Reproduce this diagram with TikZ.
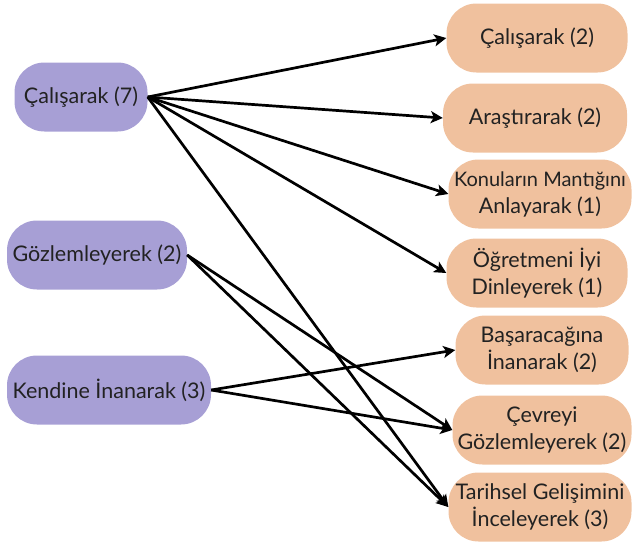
\documentclass[tikz,border=0pt]{standalone}
\usepackage{fontspec}
\setmainfont{Lato}
\usetikzlibrary{arrows.meta}
\definecolor{lavender}{HTML}{A79FD5}
\definecolor{peach}{HTML}{F0C19E}
\definecolor{ink}{HTML}{222222}

\begin{document}
\begin{tikzpicture}[x=1pt, y=-1pt,
    box/.style={rounded corners=30pt, minimum height=69pt, align=center, text=ink,
        inner sep=1pt, font=\fontsize{21.5}{27}\selectfont},
    sol/.style={box, fill=lavender},
    sag/.style={box, fill=peach},
    ok/.style={-{Stealth[length=12pt, width=12pt, inset=3pt]}, line width=2.7pt}]
    \useasboundingbox (0,0) rectangle (632,544);

    % Define the left nodes
    \node[sol, minimum width=133pt] (calisarak) at (81,97) {Çalışarak (7)};
    \node[sol, minimum width=180pt] (gozlem) at (97,255) {Gözlemleyerek (2)};
    \node[sol, minimum width=204pt] (kendine) at (109,390) {Kendine İnanarak (3)};

    % Define the right nodes
    \node[sag, minimum width=181pt] (r1) at (537,38) {Çalışarak (2)};
    \node[sag, minimum width=184pt] (r2) at (535,118) {Araştırarak (2)};
    \node[sag, minimum width=183pt] (r3) at (540,194)
        {{\fontsize{20}{27}\selectfont Konuların Mantığını}\\Anlayarak (1)};
    \node[sag, minimum width=181pt] (r4) at (537,273) {Öğretmeni İyi\\Dinleyerek (1)};
    \node[sag, minimum width=173pt] (r5) at (542,350) {Başaracağına\\İnanarak (2)};
    \node[sag, minimum width=179pt] (r6) at (542,430) {Çevreyi\\Gözlemleyerek (2)};
    \node[sag, minimum width=183pt] (r7) at (540,507) {Tarihsel Gelişimini\\İnceleyerek (3)};

    % Draw the arrows
    \draw[ok] (calisarak.east) -- (r1.west);
    \draw[ok] (calisarak.east) -- (r2.west);
    \draw[ok] (calisarak.east) -- (r3.west);
    \draw[ok] (calisarak.east) -- (r4.west);
    \draw[ok] (calisarak.east) -- (r7.west);

    \draw[ok] (gozlem.east) -- (r6.west);
    \draw[ok] (gozlem.east) -- (r7.west);

    \draw[ok] (kendine.east) -- (r5.west);
    \draw[ok] (kendine.east) -- (r6.west);
\end{tikzpicture}
\end{document}
